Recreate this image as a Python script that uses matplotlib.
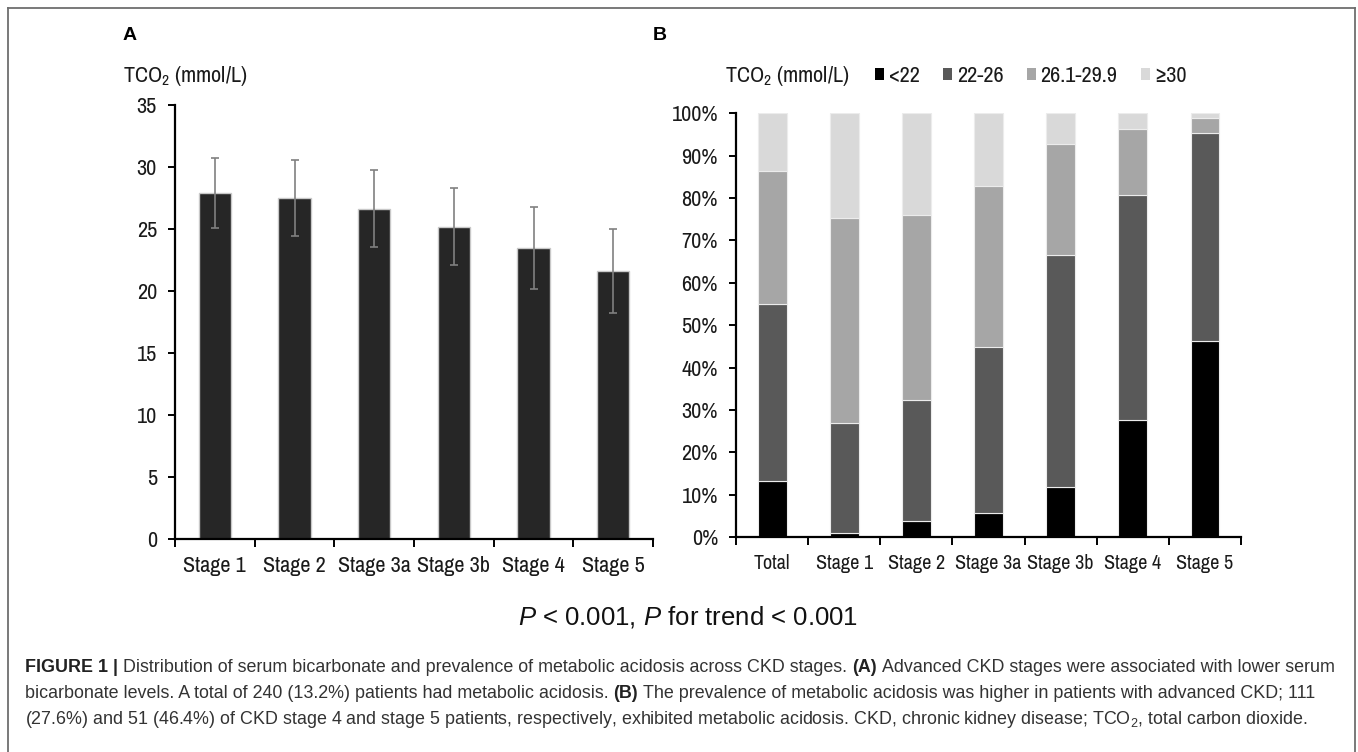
import matplotlib
matplotlib.use("Agg")
import matplotlib.pyplot as plt
from matplotlib import font_manager
from matplotlib.font_manager import FontProperties
from matplotlib.patches import Patch
from matplotlib.lines import Line2D
import numpy as np

# ---- data -------------------------------------------------------------
stages = ["Stage 1", "Stage 2", "Stage 3a", "Stage 3b", "Stage 4", "Stage 5"]
tco2_mean = [27.9, 27.5, 26.65, 25.2, 23.5, 21.6]
tco2_sd = [2.85, 3.1, 3.1, 3.1, 3.3, 3.4]
a_yticks = [0, 5, 10, 15, 20, 25, 30, 35]

groups = ["Total", "Stage 1", "Stage 2", "Stage 3a", "Stage 3b", "Stage 4", "Stage 5"]
pct_lt22 = [13.2, 0.9, 3.8, 5.7, 11.8, 27.6, 46.4]
pct_22_26 = [41.9, 26.0, 28.5, 39.3, 54.7, 53.2, 49.0]
pct_261_299 = [31.2, 48.5, 43.6, 37.8, 26.3, 15.4, 3.4]
pct_ge30 = [13.7, 24.6, 24.1, 17.2, 7.2, 3.8, 1.2]
range_labels = ["<22", "22-26", "26.1-29.9", "≥30"]
b_yticks = [0, 10, 20, 30, 40, 50, 60, 70, 80, 90, 100]

# ---- fonts ------------------------------------------------------------
SANS = "Liberation Sans"


def find_narrow_font():
    """Return the path of a regular-weight narrow/condensed sans font, if any."""
    entries = font_manager.fontManager.ttflist
    def ok(f):
        return f.style == "normal" and f.weight in (400, "normal", "regular")
    for key in ("Liberation Sans Narrow", "Arial Narrow"):
        for f in entries:
            if f.name == key and ok(f):
                return f.fname
    for f in entries:
        if ("Narrow" in f.name or "Condensed" in f.name) and ok(f):
            return f.fname
    for f in entries:
        if isinstance(f.stretch, str) and "condensed" in f.stretch and ok(f):
            return f.fname
    for f in entries:
        p = f.fname.lower()
        if ("condensed" in p or "narrow" in p) and ok(f) and "bold" not in p and "oblique" not in p \
                and "italic" not in p and "light" not in p:
            return f.fname
    return None


narrow_path = find_narrow_font()
if narrow_path:
    TICK_FS = 16
    BX_FS = 14.5
    def fp(size=None):
        return FontProperties(fname=narrow_path, size=size or TICK_FS)
else:
    TICK_FS = 13.5
    BX_FS = 12
    def fp(size=None):
        return FontProperties(family=SANS, size=size or TICK_FS)

plt.rcParams["font.family"] = [SANS, "DejaVu Sans"]
plt.rcParams["mathtext.fontset"] = "custom"
plt.rcParams["mathtext.rm"] = SANS
plt.rcParams["mathtext.it"] = SANS + ":italic"
plt.rcParams["mathtext.bf"] = SANS + ":bold"

W, H = 1358, 752
fig = plt.figure(figsize=(W / 100, H / 100), dpi=100)
fig.patch.set_facecolor("white")


def fx(px):
    return px / W


def fy(py):
    return 1 - py / H


TXT = "#1a1a1a"

# ---- panel A: mean TCO2 by stage -------------------------------------
axA = fig.add_axes([fx(175), fy(539), fx(653) - fx(175), fy(105) - fy(539)])
xa = np.arange(len(stages))
axA.bar(xa, tco2_mean, width=0.41, color="#262626", edgecolor="#c8c8c8", linewidth=1.0, zorder=2)
axA.errorbar(xa, tco2_mean, yerr=tco2_sd, fmt="none", ecolor="#808080",
             elinewidth=1.2, capsize=3, capthick=1.2, zorder=3)
axA.set_xlim(-0.5, len(stages) - 0.5)
axA.set_ylim(0, 35)
axA.set_yticks(a_yticks)
axA.set_yticklabels([str(v) for v in a_yticks], fontproperties=fp())
axA.set_xticks(xa)
axA.set_xticklabels(stages, fontproperties=fp())
axA.set_xticks(np.arange(len(stages) + 1) - 0.5, minor=True)

# ---- panel B: distribution of TCO2 ranges ----------------------------
axB = fig.add_axes([fx(736), fy(537.3), fx(1241) - fx(736), fy(113.3) - fy(537.3)])
xb = np.arange(len(groups))
seg_colors = ["#000000", "#595959", "#a6a6a6", "#d9d9d9"]
bottom = np.zeros(len(groups))
for vals, col in zip([pct_lt22, pct_22_26, pct_261_299, pct_ge30], seg_colors):
    axB.bar(xb, vals, bottom=bottom, width=0.40, color=col, edgecolor="#ececec",
            linewidth=0.8, zorder=2)
    bottom += np.array(vals)
axB.set_xlim(-0.5, len(groups) - 0.5)
axB.set_ylim(0, 100)
axB.set_yticks(b_yticks)
axB.set_yticklabels([f"{v}%" for v in b_yticks], fontproperties=fp())
axB.set_xticks(xb)
axB.set_xticklabels(groups, fontproperties=fp(BX_FS))
axB.set_xticks(np.arange(len(groups) + 1) - 0.5, minor=True)

for ax in (axA, axB):
    for s in ("top", "right"):
        ax.spines[s].set_visible(False)
    for s in ("left", "bottom"):
        ax.spines[s].set_linewidth(1.6)
        ax.spines[s].set_color("black")
    ax.tick_params(axis="y", direction="out", length=5, width=1.4, labelcolor=TXT, pad=8)
    ax.tick_params(axis="x", which="major", length=0, labelcolor=TXT, pad=12)
    ax.tick_params(axis="x", which="minor", direction="out", length=6, width=1.4)

# ---- panel letters and axis captions ---------------------------------
fig.text(fx(123), fy(36), "A", fontsize=14, fontweight="bold", family=SANS, va="center", ha="left")
fig.text(fx(653), fy(36), "B", fontsize=14, fontweight="bold", family=SANS, va="center", ha="left")
fig.text(fx(123), fy(76), r"TCO$\mathregular{_2}$ (mmol/L)", fontproperties=fp(), color=TXT,
         va="center", ha="left")
fig.text(fx(725), fy(76), r"TCO$\mathregular{_2}$ (mmol/L)", fontproperties=fp(), color=TXT,
         va="center", ha="left")

handles = [Patch(facecolor=c, edgecolor="none") for c in seg_colors]
fig.legend(handles, range_labels, ncol=4, loc="center left",
           bbox_to_anchor=(fx(875), fy(76)), bbox_transform=fig.transFigure,
           frameon=False, prop=fp(), handlelength=0.42, handleheight=0.42,
           handletextpad=0.2, columnspacing=1.05, borderpad=0, borderaxespad=0,
           labelcolor=TXT)

# ---- significance line ------------------------------------------------
fig.text(fx(688), fy(617), r"$P$ < 0.001, $P$ for trend < 0.001", family=SANS,
         fontsize=18.5, color="#111111", ha="center", va="center")

# ---- caption ------------------------------------------------------------
CAP_FS = 12.9
CAP_COL = "#333333"
renderer = fig.canvas.get_renderer()


def text_width(s, weight):
    t = fig.text(0, 0, s, fontsize=CAP_FS, family=SANS, fontweight=weight)
    w = t.get_window_extent(renderer).width
    t.remove()
    return w


space_w = text_width("x x", "normal") - text_width("xx", "normal")


def draw_runs(x_px, y_px, runs):
    x = x_px
    for i, (s, weight) in enumerate(runs):
        if i > 0:
            x += space_w
        t = fig.text(fx(x), fy(y_px), s, fontsize=CAP_FS, family=SANS, fontweight=weight,
                     color="#222222" if weight == "bold" else CAP_COL, ha="left", va="baseline")
        x += t.get_window_extent(renderer).width


caption_lines = [
    [("FIGURE 1 |", "bold"),
     ("Distribution of serum bicarbonate and prevalence of metabolic acidosis across CKD stages.", "normal"),
     ("(A)", "bold"),
     ("Advanced CKD stages were associated with lower serum", "normal")],
    [("bicarbonate levels. A total of 240 (13.2%) patients had metabolic acidosis.", "normal"),
     ("(B)", "bold"),
     ("The prevalence of metabolic acidosis was higher in patients with advanced CKD; 111", "normal")],
    [(r"(27.6%) and 51 (46.4%) of CKD stage 4 and stage 5 patients, respectively, exhibited "
      r"metabolic acidosis. CKD, chronic kidney disease; TCO$\mathregular{_2}$, total carbon dioxide.",
      "normal")],
]
for k, runs in enumerate(caption_lines):
    draw_runs(25, 672 + 26 * k, runs)

# ---- outer frame --------------------------------------------------------
frame_col = "#6e6e6e"
fig.add_artist(Line2D([fx(8), fx(8)], [0, fy(8)], transform=fig.transFigure, color=frame_col, lw=1.3))
fig.add_artist(Line2D([fx(8), fx(1355)], [fy(8), fy(8)], transform=fig.transFigure, color=frame_col, lw=1.3))
fig.add_artist(Line2D([fx(1355), fx(1355)], [0, fy(8)], transform=fig.transFigure, color=frame_col, lw=1.3))

fig.savefig("out.png", dpi=100)
